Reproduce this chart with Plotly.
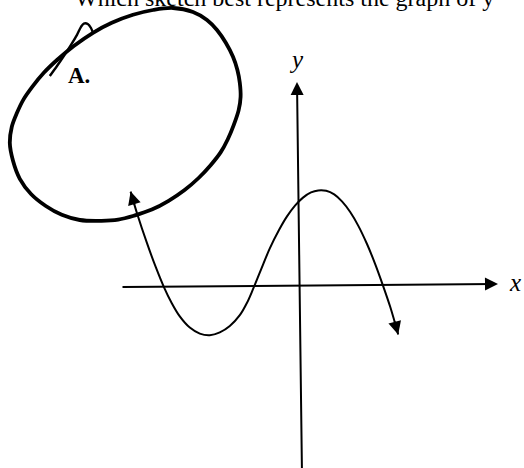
import plotly.graph_objects as go

# Sketched curve (data units: 1 unit = one grid step of the sketch)
curve_x = [-4.21, -4.05, -3.80, -3.58, -3.38, -3.18, -2.98, -2.73, -2.48, -2.23, -1.98,
           -1.73, -1.48, -1.30, -1.15, -0.95, -0.73, -0.50, -0.30, -0.10, 0.10, 0.30,
           0.48, 0.68, 0.88, 1.08, 1.28, 1.48, 1.70, 1.90, 2.10, 2.28, 2.48]
curve_y = [2.35, 1.81, 1.06, 0.46, -0.03, -0.44, -0.77, -1.05, -1.20, -1.24, -1.17,
           -1.01, -0.74, -0.43, -0.09, 0.40, 0.93, 1.39, 1.73, 2.00, 2.20, 2.33,
           2.38, 2.37, 2.28, 2.10, 1.84, 1.50, 1.04, 0.55, 0.00, -0.53, -1.22]

# Arrow tails just behind each end of the curve
curve_start_tail = [-4.10, 1.99]
curve_end_tail = [2.38, -0.86]

# Coordinate axes: [tail, head]
x_axis_x = [-4.45, 4.975]
x_axis_y = [-0.035, 0.04]
y_axis_x = [0.075, -0.05]
y_axis_y = [-4.75, 5.09]

# Hand-drawn loop around the answer choice
loop_x = [-5.15, -4.68, -4.15, -3.65, -3.15, -2.65, -2.30, -2.05, -1.83, -1.65, -1.54,
          -1.48, -1.46, -1.51, -1.63, -1.78, -1.96, -2.21, -2.51, -2.86, -3.26, -3.68,
          -4.12, -4.52, -4.94, -5.48, -5.93, -6.33, -6.70, -6.98, -7.15, -7.23, -7.18,
          -7.05, -6.89, -6.66, -6.38, -6.05, -5.63, -5.15]
loop_y = [6.32, 6.57, 6.77, 6.89, 6.94, 6.84, 6.64, 6.39, 6.07, 5.72, 5.39,
          5.07, 4.72, 4.38, 4.02, 3.66, 3.33, 3.01, 2.69, 2.39, 2.12, 1.90,
          1.75, 1.65, 1.62, 1.64, 1.77, 1.99, 2.29, 2.67, 3.12, 3.57, 3.97,
          4.32, 4.65, 4.98, 5.32, 5.64, 5.99, 6.32]

# Pen lead-in stroke with its small hook
stroke_x = [-6.23, -6.05, -5.88, -5.70, -5.55, -5.45, -5.38, -5.28, -5.20, -5.15]
stroke_y = [5.24, 5.49, 5.74, 6.02, 6.27, 6.47, 6.55, 6.54, 6.44, 6.32]

question = "Which sketch best represents the graph of y"
choice_label = "<b>A.</b>"

SERIF = "Liberation Serif"
INK = "#000000"

fig = go.Figure()

fig.add_trace(go.Scatter(
    x=loop_x, y=loop_y, mode="lines",
    line=dict(color=INK, width=3.8, shape="spline", smoothing=1.0),
    hoverinfo="skip", showlegend=False))

fig.add_trace(go.Scatter(
    x=stroke_x, y=stroke_y, mode="lines",
    line=dict(color=INK, width=2.4, shape="spline", smoothing=0.8),
    hoverinfo="skip", showlegend=False))

fig.add_trace(go.Scatter(
    x=curve_x, y=curve_y, mode="lines",
    line=dict(color=INK, width=2, shape="spline", smoothing=1.0),
    hoverinfo="skip", showlegend=False))

annotations = []


def arrow(head_x, head_y, tail_x, tail_y):
    return dict(x=head_x, y=head_y, ax=tail_x, ay=tail_y,
                xref="x", yref="y", axref="x", ayref="y",
                text="", showarrow=True, arrowhead=2, arrowsize=1.3,
                arrowwidth=2, arrowcolor=INK, standoff=0, startstandoff=0)


annotations.append(arrow(x_axis_x[1], x_axis_y[1], x_axis_x[0], x_axis_y[0]))
annotations.append(arrow(y_axis_x[1], y_axis_y[1], y_axis_x[0], y_axis_y[0]))
annotations.append(arrow(curve_x[0], curve_y[0], curve_start_tail[0], curve_start_tail[1]))
annotations.append(arrow(curve_x[-1], curve_y[-1], curve_end_tail[0], curve_end_tail[1]))

annotations.append(dict(x=5.40, y=0.09, xref="x", yref="y", text="<i>x</i>",
                        showarrow=False, font=dict(family=SERIF, size=25, color=INK)))
annotations.append(dict(x=-0.075, y=5.665, xref="x", yref="y", text="<i>y</i>",
                        showarrow=False, font=dict(family=SERIF, size=25, color=INK)))
annotations.append(dict(x=-5.51, y=5.265, xref="x", yref="y", text=choice_label,
                        showarrow=False, font=dict(family=SERIF, size=23, color=INK)))
annotations.append(dict(x=0.543, y=1.0045, xref="paper", yref="paper", text=question,
                        showarrow=False, xanchor="center", yanchor="middle",
                        font=dict(family=SERIF, size=24, color=INK)))

fig.update_layout(
    width=524, height=468,
    margin=dict(l=0, r=0, t=0, b=0),
    paper_bgcolor="white", plot_bgcolor="white",
    xaxis=dict(range=[-7.475, 5.625], visible=False, fixedrange=True),
    yaxis=dict(range=[-4.56, 7.14], visible=False, fixedrange=True),
    annotations=annotations,
    showlegend=False,
)

fig.write_html("out.html")
